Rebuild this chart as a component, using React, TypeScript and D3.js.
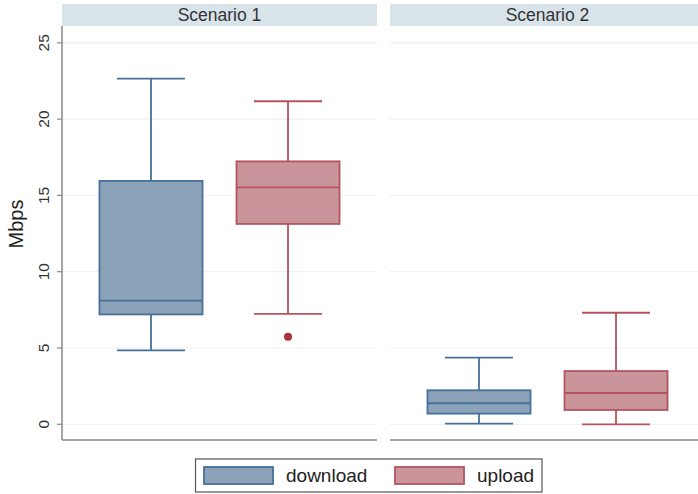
import React from "react";
import * as d3 from "d3";

// Box-plot summaries (Mbps) per scenario and direction
const scenarios = ["Scenario 1", "Scenario 2"];
const directions = ["download", "upload"];
const whiskerLow = [[4.85, 7.23], [0.04, 0.0]];
const q1 = [[7.2, 13.13], [0.7, 0.94]];
const median = [[8.1, 15.53], [1.38, 2.05]];
const q3 = [[15.95, 17.23], [2.23, 3.49]];
const whiskerHigh = [[22.65, 21.17], [4.37, 7.31]];
const outliers = [[[], [5.74]], [[], []]];
const yTicks = [0, 5, 10, 15, 20, 25];

const fills = ["#8ca2b9", "#c9949a"];
const strokes = ["#46709a", "#b5535f"];

const W = 698;
const H = 494;
const panelW = 315;
const panelX0 = [62, 390];
const plotTop = 26;
const plotBottom = 440;

export default function App() {
  const y = d3.scaleLinear().domain([0, 25]).range([424.3, 42.8]);
  const x = d3
    .scaleBand<string>()
    .domain(directions)
    .range([0, panelW])
    .paddingInner(0.248)
    .paddingOuter(0.2735);
  const capW = 68;
  const font = "Liberation Sans, Arial, sans-serif";

  return (
    <svg
      width={W}
      height={H}
      style={{ position: "absolute", left: 0, top: 0, background: "#fff" }}
      fontFamily={font}
    >
      {scenarios.map((s, si) => {
        const x0 = panelX0[si];
        return (
          <g key={s} transform={`translate(${x0},0)`}>
            {/* strip header */}
            <rect x={0} y={4} width={panelW} height={22} fill="#d9e4ea" />
            <text
              x={panelW / 2}
              y={21}
              textAnchor="middle"
              fontSize={17.5}
              fill="#333"
            >
              {s}
            </text>
            {/* gridlines */}
            {yTicks.map((t) => (
              <line
                key={t}
                x1={0}
                x2={panelW}
                y1={y(t)}
                y2={y(t)}
                stroke="#edf1f4"
                strokeWidth={1.2}
              />
            ))}
            {/* bottom axis line */}
            <line
              x1={0}
              x2={panelW}
              y1={plotBottom}
              y2={plotBottom}
              stroke="#888"
              strokeWidth={1.5}
            />
            {directions.map((d, di) => {
              const bx = x(d)!;
              const bw = x.bandwidth();
              const cx = bx + bw / 2;
              const st = strokes[di];
              return (
                <g key={d}>
                  <line x1={cx} x2={cx} y1={y(whiskerHigh[si][di])} y2={y(q3[si][di])} stroke={st} strokeWidth={1.8} />
                  <line x1={cx} x2={cx} y1={y(q1[si][di])} y2={y(whiskerLow[si][di])} stroke={st} strokeWidth={1.8} />
                  <line x1={cx - capW / 2} x2={cx + capW / 2} y1={y(whiskerHigh[si][di])} y2={y(whiskerHigh[si][di])} stroke={st} strokeWidth={1.8} />
                  <line x1={cx - capW / 2} x2={cx + capW / 2} y1={y(whiskerLow[si][di])} y2={y(whiskerLow[si][di])} stroke={st} strokeWidth={1.8} />
                  <rect
                    x={bx}
                    width={bw}
                    y={y(q3[si][di])}
                    height={y(q1[si][di]) - y(q3[si][di])}
                    fill={fills[di]}
                    stroke={st}
                    strokeWidth={1.8}
                  />
                  <line x1={bx} x2={bx + bw} y1={y(median[si][di])} y2={y(median[si][di])} stroke={st} strokeWidth={1.8} />
                  {outliers[si][di].map((o, oi) => (
                    <circle key={oi} cx={cx} cy={y(o)} r={4} fill="#a83236" />
                  ))}
                </g>
              );
            })}
          </g>
        );
      })}
      {/* y axis */}
      <line x1={62} x2={62} y1={plotTop} y2={plotBottom} stroke="#888" strokeWidth={1.5} />
      {yTicks.map((t) => (
        <g key={t}>
          <line x1={57} x2={62} y1={y(t)} y2={y(t)} stroke="#888" strokeWidth={1.2} />
          <text
            transform={`translate(48.5,${y(t)}) rotate(-90)`}
            textAnchor="middle"
            fontSize={15.5}
            fill="#333"
          >
            {t}
          </text>
        </g>
      ))}
      <text
        transform={`translate(23,224) rotate(-90)`}
        textAnchor="middle"
        fontSize={20}
        fill="#222"
      >
        Mbps
      </text>
      {/* legend */}
      <rect x={195.5} y={459} width={346.5} height={33} fill="#fff" stroke="#555" strokeWidth={1.2} />
      {directions.map((d, di) => {
        const lx = [204, 395][di];
        return (
          <g key={d}>
            <rect x={lx} y={467} width={69} height={17} fill={fills[di]} stroke={strokes[di]} strokeWidth={1.8} />
            <text x={lx + 82} y={482} fontSize={19} fill="#222">
              {d}
            </text>
          </g>
        );
      })}
    </svg>
  );
}
